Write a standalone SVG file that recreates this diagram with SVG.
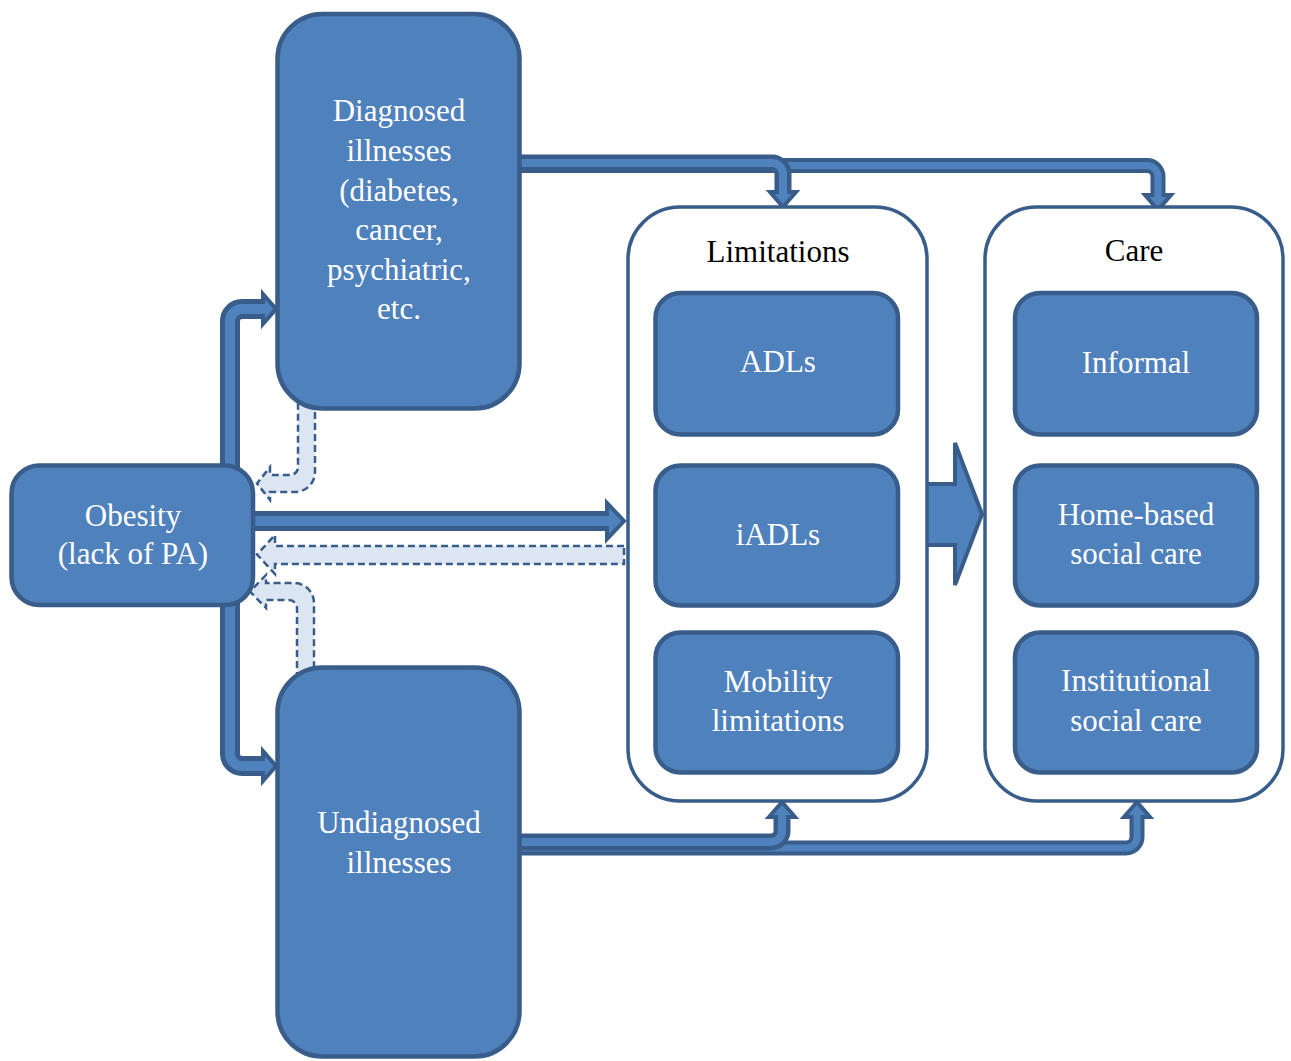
<svg xmlns="http://www.w3.org/2000/svg" width="1291" height="1061" viewBox="0 0 1291 1061">
<style>
.bg{fill:#ffffff}
.node{fill:#4f81bd;stroke:#385d8a;stroke-width:4.5}
.cont{fill:#ffffff;stroke:#385d8a;stroke-width:3.5}
.t{font-family:'Liberation Serif','Times New Roman',serif;font-size:31px;text-anchor:middle;fill:#ffffff}
.tt{font-family:'Liberation Serif','Times New Roman',serif;font-size:31px;text-anchor:middle;fill:#000000}
.o{fill:none;stroke:#385d8a;stroke-linejoin:round}
.i{fill:none;stroke:#4f81bd;stroke-linejoin:round}
.hd{fill:#4f81bd;stroke:#385d8a;stroke-width:4;stroke-linejoin:miter}
.ds{fill:#dce6f2;stroke:#385d8a;stroke-width:2.5;stroke-dasharray:7 4}
</style>
<rect class="bg" x="0" y="0" width="1291" height="1061"/>
<g id="connectors">
  <!-- Diagnosed -> Care -->
  <path class="o" stroke-width="15" d="M510,165.5 H1147 A11,11 0 0 1 1158,176.5 V195"/>
  <polygon class="hd" points="1145,195 1171,195 1158,210"/>
  <path class="i" stroke-width="7" d="M510,165.5 H1147 A11,11 0 0 1 1158,176.5 V199"/>
  <!-- Diagnosed -> Limitations -->
  <path class="o" stroke-width="17" d="M510,163 H772 A11,11 0 0 1 783,174 V192"/>
  <polygon class="hd" points="770,192 796,192 783,207"/>
  <path class="i" stroke-width="8" d="M510,163 H772 A11,11 0 0 1 783,174 V196"/>
  <!-- Undiagnosed -> Care -->
  <path class="o" stroke-width="15" d="M510,848 H1126 A11,11 0 0 0 1137,837 V817"/>
  <polygon class="hd" points="1124,817 1150,817 1137,802"/>
  <path class="i" stroke-width="7" d="M510,848 H1126 A11,11 0 0 0 1137,837 V813"/>
  <!-- Undiagnosed -> Limitations -->
  <path class="o" stroke-width="17" d="M510,842 H771 A11,11 0 0 0 782,831 V817"/>
  <polygon class="hd" points="769,817 795,817 782,802"/>
  <path class="i" stroke-width="8" d="M510,842 H771 A11,11 0 0 0 782,831 V813"/>
  <!-- Obesity -> Diagnosed -->
  <path class="o" stroke-width="20" d="M230,490 V321 A12,12 0 0 1 242,309 H263"/>
  <polygon class="hd" points="263,294 263,324 276,309"/>
  <path class="i" stroke-width="10" d="M230,490 V321 A12,12 0 0 1 242,309 H267"/>
  <!-- Obesity -> Undiagnosed -->
  <path class="o" stroke-width="20" d="M230,580 V754 A12,12 0 0 0 242,766 H263"/>
  <polygon class="hd" points="263,751 263,781 276,766"/>
  <path class="i" stroke-width="10" d="M230,580 V754 A12,12 0 0 0 242,766 H267"/>
  <!-- Obesity -> Limitations -->
  <path class="o" stroke-width="20" d="M240,521 H607"/>
  <polygon class="hd" points="607,503 607,539 624,521"/>
  <path class="i" stroke-width="10" d="M240,521 H611"/>
  <!-- Limitations -> Care block arrow -->
  <polygon class="hd" points="915,484 955,484 955,443 982,514 955,585 955,545 915,545"/>
  <!-- dashed feedback arrows -->
  <path class="ds" d="M624,546 H275 V535 L257,554.5 L275,574 V564 H624 Z"/>
  <path class="ds" d="M298,385 H315 V472 A20,20 0 0 1 295,492 H270 V500 L257,483.5 L270,467 V475 H290 A8,8 0 0 0 298,467 Z"/>
  <path class="ds" d="M297,690 V608 A8,8 0 0 0 289,600 H266 V608 L250,591.5 L266,575 V583 H294 A20,20 0 0 1 314,603 V690 Z"/>
</g>
<g id="limitations">
  <rect class="cont" x="628" y="207" width="299" height="594" rx="52"/>
  <text class="tt" x="778" y="262">Limitations</text>
</g>
<g id="care">
  <rect class="cont" x="985" y="207" width="298" height="594" rx="52"/>
  <text class="tt" x="1134" y="261">Care</text>
</g>
<g id="diagnosed">
  <rect class="node" x="277.5" y="14" width="242" height="394.5" rx="45"/>
  <text class="t" x="399" y="121">Diagnosed</text>
  <text class="t" x="399" y="161">illnesses</text>
  <text class="t" x="399" y="201">(diabetes,</text>
  <text class="t" x="399" y="240">cancer,</text>
  <text class="t" x="399" y="280">psychiatric,</text>
  <text class="t" x="399" y="319">etc.</text>
</g>
<g id="undiagnosed">
  <rect class="node" x="277.5" y="667.5" width="242" height="389" rx="45"/>
  <text class="t" x="399" y="833">Undiagnosed</text>
  <text class="t" x="399" y="873">illnesses</text>
</g>
<g id="obesity">
  <rect class="node" x="11.5" y="465.5" width="241.5" height="139.5" rx="28"/>
  <text class="t" x="133" y="526">Obesity</text>
  <text class="t" x="133" y="564">(lack of PA)</text>
</g>
<g id="adls">
  <rect class="node" x="655.5" y="293" width="242.5" height="141.5" rx="25"/>
  <text class="t" x="778" y="372">ADLs</text>
</g>
<g id="iadls">
  <rect class="node" x="655.5" y="465.5" width="242.5" height="140" rx="25"/>
  <text class="t" x="778" y="545">iADLs</text>
</g>
<g id="mobility">
  <rect class="node" x="655.5" y="632.5" width="242.5" height="140" rx="25"/>
  <text class="t" x="778" y="692">Mobility</text>
  <text class="t" x="778" y="731">limitations</text>
</g>
<g id="informal">
  <rect class="node" x="1015" y="293" width="242" height="141.5" rx="25"/>
  <text class="t" x="1136" y="373">Informal</text>
</g>
<g id="homebased">
  <rect class="node" x="1015" y="465.5" width="242" height="140" rx="25"/>
  <text class="t" x="1136" y="525">Home-based</text>
  <text class="t" x="1136" y="564">social care</text>
</g>
<g id="institutional">
  <rect class="node" x="1015" y="632.5" width="242" height="140" rx="25"/>
  <text class="t" x="1136" y="691">Institutional</text>
  <text class="t" x="1136" y="731">social care</text>
</g>
</svg>
